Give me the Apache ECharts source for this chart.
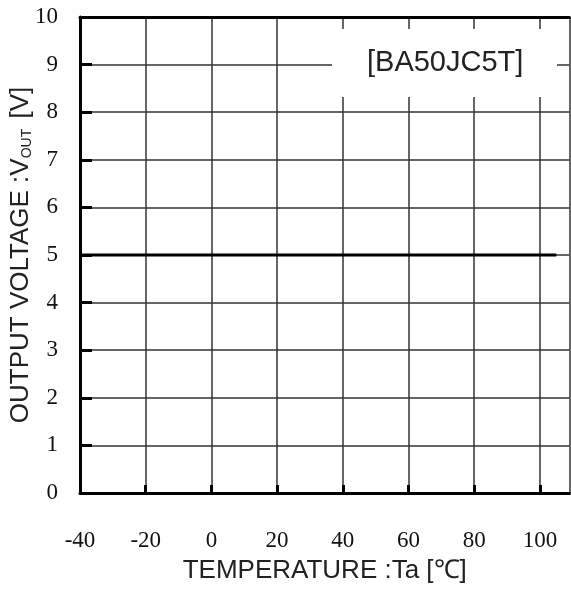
<!DOCTYPE html>
<html>
<head>
<meta charset="utf-8">
<script src="https://cdn.jsdelivr.net/npm/echarts@6/dist/echarts.min.js"></script>
<style>html,body{margin:0;padding:0;background:#fff;}#c{width:571px;height:590px;}</style>
</head>
<body>
<div id="c"></div>
<script>
// Data
const temperatures = [-40, -20, 0, 20, 40, 60, 80, 100, 105];
const outputVoltage = [5.0, 5.0, 5.0, 5.0, 5.0, 5.0, 5.0, 5.0, 5.0];
const xTickValues = [-40, -20, 0, 20, 40, 60, 80, 100];
const yTickValues = [0, 1, 2, 3, 4, 5, 6, 7, 8, 9, 10];
const partLabel = '[BA50JC5T]';
const xTitle = 'TEMPERATURE :Ta [\u2103]';

const seriesData = temperatures.map((t, i) => [t, outputVoltage[i]]);

const chart = echarts.init(document.getElementById('c'));
const tickFont = 'Liberation Serif';
chart.setOption({
  animation: false,
  backgroundColor: '#fff',
  grid: { left: 80, top: 17, right: 1.5, bottom: 97, containLabel: false, outerBoundsMode: 'none' },
  xAxis: [{
    type: 'value',
    min: xTickValues[0],
    max: 109,
    interval: 20,
    name: xTitle,
    nameLocation: 'middle',
    nameGap: 65,
    nameMoveOverlap: false,
    nameTextStyle: { fontFamily: 'Liberation Sans', fontSize: 26, color: '#222' },
    axisLine: { show: true, onZero: false, lineStyle: { color: '#000', width: 3 } },
    axisTick: { show: true, inside: true, length: 8, lineStyle: { color: '#000', width: 3 } },
    axisLabel: { margin: 36, fontFamily: tickFont, fontSize: 23, color: '#111', showMaxLabel: false },
    splitLine: { show: true, lineStyle: { color: '#333', width: 1.5 } }
  }, {
    type: 'value',
    position: 'top',
    min: xTickValues[0],
    max: 109,
    interval: 20,
    axisLine: { show: true, onZero: false, lineStyle: { color: '#000', width: 3 } },
    axisTick: { show: false },
    axisLabel: { show: false },
    splitLine: { show: false }
  }],
  yAxis: {
    type: 'value',
    min: yTickValues[0],
    max: yTickValues[yTickValues.length - 1],
    interval: 1,
    name: 'OUTPUT VOLTAGE :V{sub|OUT} [V]',
    nameLocation: 'middle',
    nameGap: 46,
    nameMoveOverlap: false,
    nameTextStyle: {
      fontFamily: 'Liberation Sans', fontSize: 26, color: '#222',
      rich: { sub: { fontFamily: 'Liberation Sans', fontSize: 14, color: '#222', verticalAlign: 'bottom', padding: [8, 3, 0, 0] } }
    },
    axisLine: { show: true, onZero: false, lineStyle: { color: '#000', width: 3 } },
    axisTick: { show: true, inside: true, length: 12, lineStyle: { color: '#000', width: 3 } },
    axisLabel: { margin: 22, fontFamily: tickFont, fontSize: 23, color: '#111' },
    splitLine: { show: true, lineStyle: { color: '#333', width: 1.5 } }
  },
  graphic: [{
    type: 'rect',
    left: 332,
    top: 29,
    z: 100,
    shape: { width: 225, height: 68 },
    style: { fill: '#fff' }
  }, {
    type: 'text',
    left: 367,
    top: 48,
    z: 101,
    style: {
      text: partLabel,
      fontFamily: 'Liberation Sans',
      fontSize: 29,
      fill: '#222'
    }
  }],
  series: [{
    type: 'line',
    xAxisIndex: 0,
    data: seriesData,
    symbol: 'none',
    lineStyle: { color: '#000', width: 3 },
    z: 5
  }]
});
</script>
</body>
</html>
